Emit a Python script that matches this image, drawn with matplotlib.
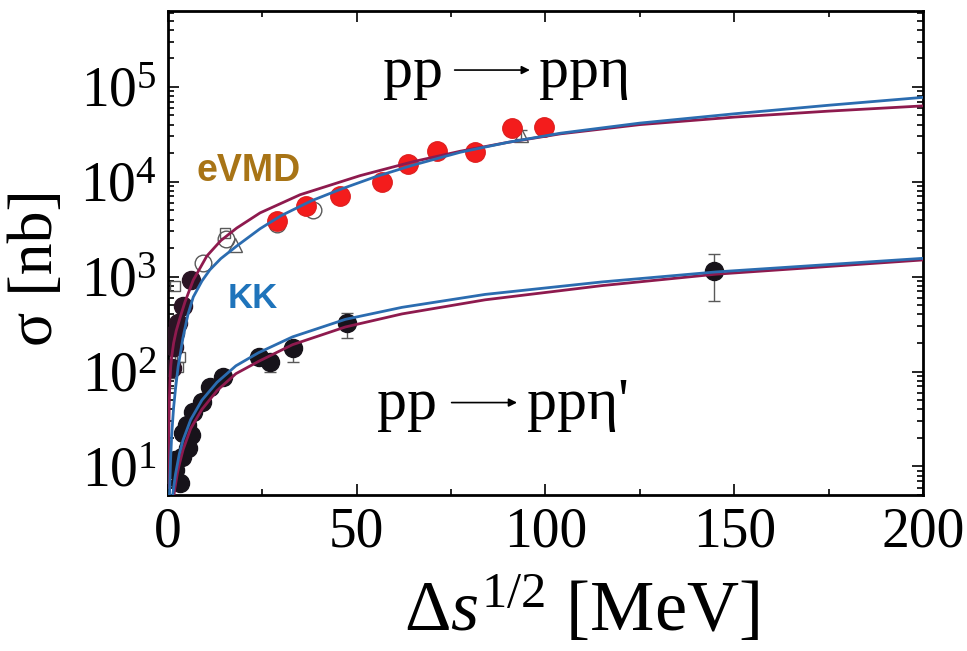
import matplotlib
matplotlib.use('Agg')
import matplotlib.pyplot as plt
from matplotlib.ticker import MultipleLocator, LogLocator, NullFormatter

plt.rcParams['font.family'] = ['Liberation Serif', 'DejaVu Serif']
plt.rcParams['mathtext.fontset'] = 'custom'
plt.rcParams['mathtext.rm'] = 'Liberation Serif'
plt.rcParams['mathtext.it'] = 'Liberation Serif:italic'

# --- pp -> pp eta : model curves (Q in MeV, sigma in nb) ---
q_evmd_eta = [0.1, 0.2, 0.35, 0.5, 0.75, 1.0, 1.5, 2.2, 3.2, 4.5, 6.7, 10.3, 14, 18.2,
              24.4, 35, 50.9, 65, 77.5, 90, 104, 125, 150, 175, 200]
s_evmd_eta = [6, 20, 48, 80, 115, 145, 200, 270, 370, 540, 920, 1650, 2400, 3250,
              4700, 7300, 11600, 16300, 21000, 26000, 32000, 40000, 48000, 55500, 63000]
q_kk_eta = [0.4, 0.7, 1.0, 1.5, 2.0, 2.7, 4.0, 5.3, 6.7, 9.0, 11.1, 14, 18.2, 24.4, 30,
            38, 45.6, 55, 65, 77.5, 90, 104, 125, 150, 175, 200]
s_kk_eta = [5, 12, 22, 42, 66, 113, 230, 400, 610, 900, 1180, 1550, 2100, 3200, 4400,
            6300, 8300, 11300, 15000, 20500, 26000, 32500, 41500, 52000, 64000, 77500]

# --- pp -> pp eta' : model curves ---
q_kk_etap = [1.0, 1.5, 2, 3, 4, 6, 9, 13, 18, 24, 33, 47, 62, 84, 115, 145, 200]
s_kk_etap = [4.2, 6.0, 8.3, 13.5, 19, 31, 50, 77, 115, 158, 232, 355, 475, 650, 880, 1120, 1560]
q_evmd_etap = [1.3, 1.8, 2.5, 3, 4, 6, 9, 13, 18, 24, 33, 47, 62, 84, 115, 145, 200]
s_evmd_etap = [4.0, 5.8, 8.5, 10.5, 15, 25, 40, 63, 95, 128, 192, 295, 405, 570, 805, 1060, 1500]

# --- pp -> pp eta data ---
q_eta_red = [28.8, 36.6, 45.6, 56.7, 63.6, 71.3, 81.2, 91.2, 99.6]
s_eta_red = [3820, 5500, 7020, 9950, 15400, 20900, 20600, 37000, 37800]
q_eta_dark = [1.0, 1.5, 1.9, 2.7, 4.1, 6.0]
s_eta_dark = [110, 180, 257, 324, 485, 927]
q_eta_ocirc = [28.8, 38.5, 9.4, 15.5]
s_eta_ocirc = [3600, 5080, 1390, 2500]
q_eta_otri = [17.8, 93.4]
s_eta_otri = [2170, 31400]
q_eta_osq = [0.6, 1.0, 1.9, 2.7, 3.2, 15.0]
s_eta_osq = [75, 130, 788, 112, 144, 2900]

# --- pp -> pp eta' data ---
q_etap = [1.9, 1.9, 3.2, 3.6, 4.1, 5.0, 5.4, 6.2, 6.7, 8.9, 11.1, 14.7, 24.0, 27.1,
          33.2, 47.4, 144.6]
s_etap = [9.2, 11.7, 6.7, 12.7, 22.4, 27.4, 15.6, 21.4, 37.8, 48.3, 69.5, 88.5, 144,
          127, 177, 324, 1135]
q_etap_err = [27.1, 33.2, 47.4, 144.6]
s_etap_err = [127, 177, 324, 1135]
etap_err_lo = [27, 50, 100, 575]
etap_err_hi = [20, 30, 90, 600]

purple = '#8e1a4e'
blue = '#2b6cb0'

fig = plt.figure(figsize=(9.67, 6.51), dpi=100)
ax = fig.add_axes([0.1737, 0.2396, 0.7808, 0.7435])

# data markers (curves go on top)
ax.errorbar(q_etap_err, s_etap_err, yerr=[etap_err_lo, etap_err_hi], fmt='none',
            ecolor='0.35', elinewidth=1, capsize=4, zorder=2)
ax.errorbar([93.4], [31400], yerr=[[3500], [3500]], fmt='none',
            ecolor='0.35', elinewidth=1, capsize=4, zorder=2)
ax.plot(q_eta_osq, s_eta_osq, 's', ms=7, mfc='none', mec='0.35', mew=1, zorder=2)
ax.plot(q_eta_otri, s_eta_otri, '^', ms=10, mfc='none', mec='0.35', mew=1, zorder=2)
ax.plot(q_eta_ocirc, s_eta_ocirc, 'o', ms=12, mfc='none', mec='0.35', mew=1, zorder=2)
ax.plot(q_eta_red, s_eta_red, 'o', ms=14, color='#f41c1c', mec='#e02020', zorder=3)
ax.plot(q_eta_dark, s_eta_dark, 'o', ms=13, color='#2a1424', zorder=3)
ax.plot(q_etap, s_etap, 'o', ms=13, color='#17131a', zorder=3)

# model curves
ax.plot(q_evmd_eta, s_evmd_eta, color=purple, lw=2.0, zorder=4)
ax.plot(q_kk_eta, s_kk_eta, color=blue, lw=2.0, zorder=4)
ax.plot(q_evmd_etap, s_evmd_etap, color=purple, lw=2.0, zorder=4)
ax.plot(q_kk_etap, s_kk_etap, color=blue, lw=2.0, zorder=4)

ax.set_yscale('log')
ax.set_xlim(0, 200)
ax.set_ylim(5, 6.3e5)

ax.xaxis.set_major_locator(MultipleLocator(50))
ax.xaxis.set_minor_locator(MultipleLocator(25))
ax.yaxis.set_major_locator(LogLocator(base=10, numticks=10))
ax.yaxis.set_minor_locator(LogLocator(base=10, subs=range(2, 10), numticks=20))
ax.yaxis.set_minor_formatter(NullFormatter())
ax.tick_params(which='both', direction='in', top=True, right=True, width=1.2)
ax.tick_params(which='major', length=8, labelsize=40, pad=8)
ax.tick_params(which='minor', length=4)
for sp in ax.spines.values():
    sp.set_linewidth(2)

ax.set_xlabel(r'$\Delta s^{1/2}$ [MeV]', fontsize=52)
ax.xaxis.set_label_coords(0.548, -0.165)
ax.set_ylabel('\u03c3 [nb]', fontsize=46)
ax.yaxis.set_label_coords(-0.135, 0.47)

# reaction labels
ax.text(0.285, 0.872, 'pp', transform=ax.transAxes, fontsize=43, va='center', ha='left')
ax.text(0.491, 0.872, 'pp\u03b7', transform=ax.transAxes, fontsize=43, va='center', ha='left')
ax.annotate('', xy=(0.483, 0.878), xytext=(0.376, 0.878), xycoords='axes fraction',
            arrowprops=dict(arrowstyle='-|>', lw=1.2, color='k', mutation_scale=12))
ax.text(0.277, 0.185, 'pp', transform=ax.transAxes, fontsize=43, va='center', ha='left')
ax.text(0.475, 0.185, "pp\u03b7'", transform=ax.transAxes, fontsize=43, va='center', ha='left')
ax.annotate('', xy=(0.466, 0.191), xytext=(0.372, 0.191), xycoords='axes fraction',
            arrowprops=dict(arrowstyle='-|>', lw=1.2, color='k', mutation_scale=12))

# model names
ax.text(0.038, 0.67, 'eVMD', transform=ax.transAxes, fontsize=27, fontweight='bold',
        color='#a87416', family=['Liberation Sans', 'DejaVu Sans'], va='center')
ax.text(0.079, 0.405, 'KK', transform=ax.transAxes, fontsize=25, fontweight='bold',
        color='#1f74bb', family=['Liberation Sans', 'DejaVu Sans'], va='center')

fig.savefig('out.png', dpi=100)
